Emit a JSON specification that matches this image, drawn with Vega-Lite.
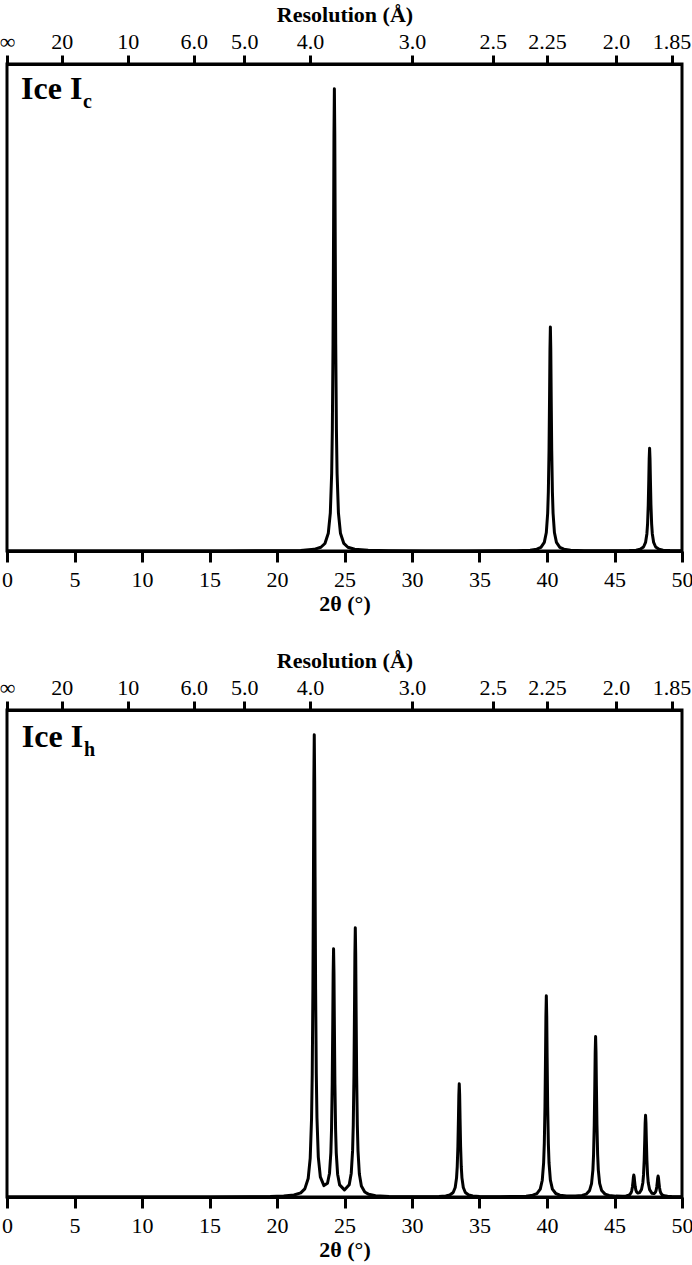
{
  "$schema": "https://vega.github.io/schema/vega-lite/v6.json",
  "padding": {"left": -3, "top": 1, "right": 0, "bottom": 0},
  "bounds": "flush",
  "spacing": 159,
  "config": {
    "font": "Liberation Serif",
    "view": {"stroke": "black", "strokeWidth": 3},
    "axis": {"domainColor": "black", "tickColor": "black", "labelColor": "black", "titleColor": "black", "domainWidth": 3, "tickWidth": 3, "grid": false, "labelFont": "Liberation Serif", "titleFont": "Liberation Serif"}
  },
  "datasets": {
    "ic": [
      {"t":0,"i":0.002},{"t":10,"i":0.005},{"t":16,"i":0.013},{"t":19,"i":0.03},{"t":20.25,"i":0.05},{"t":21.75,"i":0.125},{"t":22.75,"i":0.344},{"t":23.25,"i":0.765},{"t":23.55,"i":1.546},{"t":23.8,"i":3.657},{"t":23.95,"i":7.842},{"t":24.05,"i":15.98},{"t":24.1,"i":25.12},{"t":24.15,"i":42.47},{"t":24.19,"i":65.67},{"t":24.22,"i":85.41},{"t":24.25,"i":94.9},{"t":24.28,"i":85.41},{"t":24.31,"i":65.67},{"t":24.35,"i":42.47},{"t":24.4,"i":25.12},{"t":24.45,"i":15.98},{"t":24.55,"i":7.84},{"t":24.7,"i":3.66},{"t":24.95,"i":1.55},{"t":25.25,"i":0.77},{"t":25.75,"i":0.35},{"t":26.75,"i":0.13},{"t":28.25,"i":0.05},{"t":31,"i":0.021},{"t":34,"i":0.018},{"t":36.25,"i":0.028},{"t":37.75,"i":0.063},{"t":38.75,"i":0.17},{"t":39.25,"i":0.372},{"t":39.55,"i":0.751},{"t":39.8,"i":1.774},{"t":39.95,"i":3.8},{"t":40.05,"i":7.75},{"t":40.1,"i":12.18},{"t":40.15,"i":20.59},{"t":40.19,"i":31.83},{"t":40.22,"i":41.4},{"t":40.25,"i":46.0},{"t":40.28,"i":41.4},{"t":40.31,"i":31.83},{"t":40.35,"i":20.59},{"t":40.4,"i":12.18},{"t":40.45,"i":7.75},{"t":40.55,"i":3.8},{"t":40.7,"i":1.774},{"t":40.95,"i":0.755},{"t":41.25,"i":0.374},{"t":41.75,"i":0.17},{"t":42.75,"i":0.062},{"t":43.6,"i":0.044},{"t":45.1,"i":0.043},{"t":46.1,"i":0.087},{"t":46.6,"i":0.18},{"t":46.9,"i":0.352},{"t":47.15,"i":0.82},{"t":47.3,"i":1.75},{"t":47.4,"i":3.56},{"t":47.45,"i":5.59},{"t":47.5,"i":9.45},{"t":47.54,"i":14.61},{"t":47.57,"i":19.0},{"t":47.6,"i":21.11},{"t":47.63,"i":19.0},{"t":47.66,"i":14.61},{"t":47.7,"i":9.45},{"t":47.75,"i":5.59},{"t":47.8,"i":3.56},{"t":47.9,"i":1.75},{"t":48.05,"i":0.82},{"t":48.3,"i":0.35},{"t":48.6,"i":0.175},{"t":49.1,"i":0.08},{"t":50,"i":0.035}
    ],
    "ih": [
      {"t":0,"i":0.003},{"t":10,"i":0.01},{"t":15,"i":0.02},{"t":18,"i":0.052},{"t":19.5,"i":0.1},{"t":20.5,"i":0.196},{"t":21.26,"i":0.409},{"t":21.76,"i":0.856},{"t":22.06,"i":1.661},{"t":22.31,"i":3.796},{"t":22.46,"i":7.994},{"t":22.56,"i":16.13},{"t":22.61,"i":25.26},{"t":22.66,"i":42.58},{"t":22.7,"i":65.73},{"t":22.73,"i":85.42},{"t":22.76,"i":94.9},{"t":22.79,"i":85.45},{"t":22.82,"i":65.77},{"t":22.86,"i":42.64},{"t":22.91,"i":25.35},{"t":22.96,"i":16.26},{"t":23.06,"i":8.195},{"t":23.21,"i":4.13},{"t":23.475,"i":2.345},{"t":23.74,"i":2.838},{"t":23.89,"i":4.885},{"t":23.99,"i":9.136},{"t":24.04,"i":13.96},{"t":24.09,"i":23.16},{"t":24.13,"i":35.48},{"t":24.16,"i":45.96},{"t":24.19,"i":50.99},{"t":24.22,"i":45.95},{"t":24.25,"i":35.44},{"t":24.29,"i":23.1},{"t":24.34,"i":13.87},{"t":24.39,"i":9.007},{"t":24.49,"i":4.681},{"t":24.64,"i":2.488},{"t":24.995,"i":1.456},{"t":25.35,"i":2.536},{"t":25.5,"i":4.887},{"t":25.6,"i":9.572},{"t":25.65,"i":14.85},{"t":25.7,"i":24.91},{"t":25.74,"i":38.36},{"t":25.77,"i":49.8},{"t":25.8,"i":55.3},{"t":25.83,"i":49.78},{"t":25.86,"i":38.33},{"t":25.9,"i":24.86},{"t":25.95,"i":14.78},{"t":26.0,"i":9.47},{"t":26.1,"i":4.729},{"t":26.25,"i":2.279},{"t":26.5,"i":1.027},{"t":26.8,"i":0.549},{"t":27.3,"i":0.282},{"t":28.3,"i":0.127},{"t":30,"i":0.067},{"t":32.0,"i":0.113},{"t":32.5,"i":0.216},{"t":32.8,"i":0.407},{"t":33.05,"i":0.92},{"t":33.2,"i":1.943},{"t":33.3,"i":3.934},{"t":33.35,"i":6.168},{"t":33.4,"i":10.41},{"t":33.44,"i":16.08},{"t":33.47,"i":20.91},{"t":33.5,"i":23.23},{"t":33.53,"i":20.91},{"t":33.56,"i":16.08},{"t":33.6,"i":10.41},{"t":33.65,"i":6.17},{"t":33.7,"i":3.93},{"t":33.8,"i":1.94},{"t":33.95,"i":0.92},{"t":34.2,"i":0.41},{"t":34.5,"i":0.22},{"t":35.0,"i":0.12},{"t":36.5,"i":0.07},{"t":38.45,"i":0.178},{"t":38.95,"i":0.362},{"t":39.25,"i":0.704},{"t":39.5,"i":1.623},{"t":39.65,"i":3.445},{"t":39.75,"i":6.99},{"t":39.8,"i":10.96},{"t":39.85,"i":18.52},{"t":39.89,"i":28.62},{"t":39.92,"i":37.21},{"t":39.95,"i":41.34},{"t":39.98,"i":37.21},{"t":40.01,"i":28.62},{"t":40.05,"i":18.52},{"t":40.1,"i":10.97},{"t":40.15,"i":6.995},{"t":40.25,"i":3.45},{"t":40.4,"i":1.63},{"t":40.65,"i":0.717},{"t":40.95,"i":0.38},{"t":41.45,"i":0.208},{"t":42.1,"i":0.2},{"t":42.6,"i":0.32},{"t":42.9,"i":0.58},{"t":43.15,"i":1.31},{"t":43.3,"i":2.758},{"t":43.4,"i":5.58},{"t":43.45,"i":8.75},{"t":43.5,"i":14.76},{"t":43.54,"i":22.81},{"t":43.57,"i":29.65},{"t":43.6,"i":32.94},{"t":43.63,"i":29.65},{"t":43.66,"i":22.81},{"t":43.7,"i":14.76},{"t":43.75,"i":8.75},{"t":43.8,"i":5.58},{"t":43.9,"i":2.78},{"t":44.05,"i":1.32},{"t":44.3,"i":0.585},{"t":44.6,"i":0.31},{"t":45.1,"i":0.18},{"t":45.6,"i":0.17},{"t":45.85,"i":0.223},{"t":46.0,"i":0.312},{"t":46.13,"i":0.501},{"t":46.23,"i":0.885},{"t":46.28,"i":1.308},{"t":46.33,"i":2.1},{"t":46.37,"i":3.16},{"t":46.4,"i":4.06},{"t":46.43,"i":4.5},{"t":46.46,"i":4.09},{"t":46.49,"i":3.21},{"t":46.53,"i":2.185},{"t":46.58,"i":1.436},{"t":46.63,"i":1.064},{"t":46.73,"i":0.808},{"t":46.865,"i":0.904},{"t":47.0,"i":1.529},{"t":47.1,"i":2.936},{"t":47.15,"i":4.534},{"t":47.2,"i":7.58},{"t":47.24,"i":11.66},{"t":47.27,"i":15.13},{"t":47.3,"i":16.79},{"t":47.33,"i":15.12},{"t":47.36,"i":11.65},{"t":47.4,"i":7.57},{"t":47.45,"i":4.525},{"t":47.5,"i":2.923},{"t":47.6,"i":1.507},{"t":47.765,"i":0.79},{"t":47.93,"i":0.704},{"t":48.03,"i":0.971},{"t":48.08,"i":1.338},{"t":48.13,"i":2.067},{"t":48.17,"i":3.06},{"t":48.2,"i":3.907},{"t":48.23,"i":4.31},{"t":48.26,"i":3.886},{"t":48.29,"i":3.018},{"t":48.33,"i":1.998},{"t":48.38,"i":1.232},{"t":48.43,"i":0.824},{"t":48.53,"i":0.453},{"t":48.68,"i":0.25},{"t":48.93,"i":0.138},{"t":49.23,"i":0.087},{"t":50,"i":0.04}
    ]
  },
  "vconcat": [
    {
      "width": 675,
      "height": 487,
      "resolve": {"scale": {"x": "shared", "y": "shared"}, "axis": {"x": "independent"}},
      "layer": [
        {
          "data": {"name": "ic"},
          "mark": {"type": "line", "color": "black", "strokeWidth": 3, "strokeJoin": "round"},
          "encoding": {
            "x": {"field": "t", "type": "quantitative", "scale": {"domain": [0, 50], "nice": false, "zero": false},
              "axis": {"orient": "bottom", "values": [0,5,10,15,20,25,30,35,40,45,50], "tickSize": 11, "labelFontSize": 22, "labelPadding": 7, "labelFlush": false, "labelOverlap": false, "title": "2θ (°)", "titleFontSize": 22, "titleFontWeight": "bold", "titlePadding": 3}},
            "y": {"field": "i", "type": "quantitative", "scale": {"domain": [0, 100], "nice": false}, "axis": null}
          }
        },
        {
          "data": {"name": "ic"},
          "mark": {"type": "line", "opacity": 0},
          "encoding": {
            "x": {"field": "t", "type": "quantitative",
              "axis": {"orient": "top", "values": [0, 4.05, 8.94, 13.83, 17.58, 22.44, 30.0, 35.98, 40.0, 45.11, 49.23], "labelExpr": "datum.value < 1 ? '∞' : datum.value < 6 ? '20' : datum.value < 11 ? '10' : datum.value < 15 ? '6.0' : datum.value < 20 ? '5.0' : datum.value < 25 ? '4.0' : datum.value < 32 ? '3.0' : datum.value < 38 ? '2.5' : datum.value < 42 ? '2.25' : datum.value < 47 ? '2.0' : '1.85'", "tickSize": 9, "labelFontSize": 22, "labelPadding": 2, "labelFlush": false, "labelOverlap": false, "title": "Resolution (Å)", "titleFontSize": 22, "titleFontWeight": "bold", "titlePadding": 4}},
            "y": {"field": "i", "type": "quantitative", "axis": null}
          }
        },
        {
          "data": {"values": [{}]},
          "mark": {"type": "text", "fontSize": 32, "fontWeight": "bold", "align": "left", "baseline": "alphabetic", "color": "black"},
          "encoding": {
            "x": {"datum": 1.04, "type": "quantitative", "axis": null},
            "y": {"datum": 92.8, "type": "quantitative", "axis": null},
            "text": {"value": "Ice I"}
          }
        },
        {
          "data": {"values": [{}]},
          "mark": {"type": "text", "fontSize": 20, "fontWeight": "bold", "align": "left", "baseline": "alphabetic", "color": "black"},
          "encoding": {
            "x": {"datum": 5.63, "type": "quantitative", "axis": null},
            "y": {"datum": 91.0, "type": "quantitative", "axis": null},
            "text": {"value": "c"}
          }
        }
      ]
    },
    {
      "width": 675,
      "height": 487,
      "resolve": {"scale": {"x": "shared", "y": "shared"}, "axis": {"x": "independent"}},
      "layer": [
        {
          "data": {"name": "ih"},
          "mark": {"type": "line", "color": "black", "strokeWidth": 3, "strokeJoin": "round"},
          "encoding": {
            "x": {"field": "t", "type": "quantitative", "scale": {"domain": [0, 50], "nice": false, "zero": false},
              "axis": {"orient": "bottom", "values": [0,5,10,15,20,25,30,35,40,45,50], "tickSize": 11, "labelFontSize": 22, "labelPadding": 7, "labelFlush": false, "labelOverlap": false, "title": "2θ (°)", "titleFontSize": 22, "titleFontWeight": "bold", "titlePadding": 3}},
            "y": {"field": "i", "type": "quantitative", "scale": {"domain": [0, 100], "nice": false}, "axis": null}
          }
        },
        {
          "data": {"name": "ih"},
          "mark": {"type": "line", "opacity": 0},
          "encoding": {
            "x": {"field": "t", "type": "quantitative",
              "axis": {"orient": "top", "values": [0, 4.05, 8.94, 13.83, 17.58, 22.44, 30.0, 35.98, 40.0, 45.11, 49.23], "labelExpr": "datum.value < 1 ? '∞' : datum.value < 6 ? '20' : datum.value < 11 ? '10' : datum.value < 15 ? '6.0' : datum.value < 20 ? '5.0' : datum.value < 25 ? '4.0' : datum.value < 32 ? '3.0' : datum.value < 38 ? '2.5' : datum.value < 42 ? '2.25' : datum.value < 47 ? '2.0' : '1.85'", "tickSize": 9, "labelFontSize": 22, "labelPadding": 2, "labelFlush": false, "labelOverlap": false, "title": "Resolution (Å)", "titleFontSize": 22, "titleFontWeight": "bold", "titlePadding": 4}},
            "y": {"field": "i", "type": "quantitative", "axis": null}
          }
        },
        {
          "data": {"values": [{}]},
          "mark": {"type": "text", "fontSize": 32, "fontWeight": "bold", "align": "left", "baseline": "alphabetic", "color": "black"},
          "encoding": {
            "x": {"datum": 1.1, "type": "quantitative", "axis": null},
            "y": {"datum": 92.4, "type": "quantitative", "axis": null},
            "text": {"value": "Ice I"}
          }
        },
        {
          "data": {"values": [{}]},
          "mark": {"type": "text", "fontSize": 20, "fontWeight": "bold", "align": "left", "baseline": "alphabetic", "color": "black"},
          "encoding": {
            "x": {"datum": 5.7, "type": "quantitative", "axis": null},
            "y": {"datum": 90.6, "type": "quantitative", "axis": null},
            "text": {"value": "h"}
          }
        }
      ]
    }
  ]
}
